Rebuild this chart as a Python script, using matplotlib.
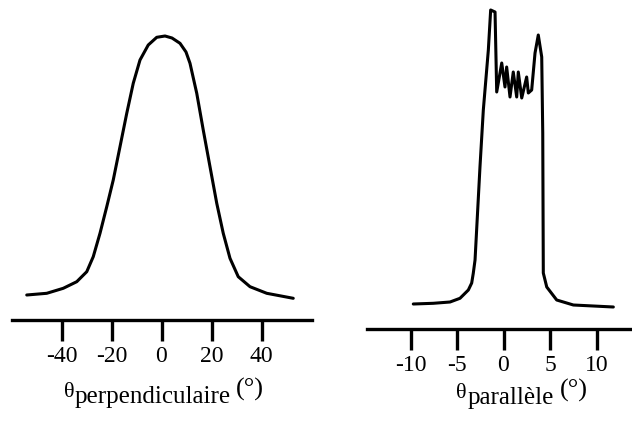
import matplotlib
matplotlib.use("Agg")
import matplotlib.pyplot as plt

plt.rcParams['font.family'] = ['Liberation Serif', 'DejaVu Serif']

# Left panel: perpendicular angular distribution
perp_deg = [-53.9, -45.9, -39.3, -33.9, -29.9, -27.3, -24.6, -21.9, -19.3, -16.6,
            -13.9, -11.3, -8.6, -5.3, -1.9, 1.4, 4.2, 7.4, 9.8, 11.4,
            14.1, 16.7, 19.4, 22.1, 24.7, 27.4, 30.7, 35.4, 42.1, 52.7]
perp_val = [25, 26.7, 31.7, 38.3, 48.3, 63.3, 86.7, 113.3, 140, 173.3,
            206.7, 236.7, 260, 275, 282.7, 284, 282, 276.7, 268, 256.7,
            226.7, 190, 153.3, 116.7, 86.7, 61.7, 43.3, 33.3, 26.7, 21.7]
perp_ticks = [-40, -20, 0, 20, 40]
perp_sub = 'perpendiculaire'

# Right panel: parallel angular distribution
par_deg = [-9.70, -7.55, -5.75, -4.68, -4.32, -3.78, -3.42, -3.25, -3.06, -2.53,
           -2.17, -1.63, -1.38, -0.91, -0.73, -0.19, 0.16, 0.34, 0.70, 1.05,
           1.42, 1.59, 1.96, 2.49, 2.67, 3.03, 3.39, 3.74, 4.11, 4.22,
           4.28, 4.65, 5.72, 7.51, 11.81]
par_val = [24, 24.7, 26, 29.7, 33, 38, 45, 54.7, 68, 161,
           218, 278, 318, 316, 236, 265, 241, 261, 231, 256,
           231, 256, 230, 251, 235, 238, 275, 293, 271, 195,
           55, 41, 28, 23, 21]
par_ticks = [-10, -5, 0, 5, 10]
par_sub = 'parallèle'

W, H = 632, 425
fig = plt.figure(figsize=(W / 100, H / 100), dpi=100)

def make_axes(x0, x1, y_axis, xlim, ylim_top):
    ax = fig.add_axes([x0 / W, (H - y_axis) / H, (x1 - x0) / W, ylim_top / H])
    ax.set_xlim(*xlim)
    ax.set_ylim(0, ylim_top)
    for s in ['top', 'left', 'right']:
        ax.spines[s].set_visible(False)
    ax.spines['bottom'].set_linewidth(2.4)
    ax.set_yticks([])
    ax.tick_params(axis='x', direction='out', length=15, width=2.4, pad=4,
                   labelsize=17, colors='black')
    ax.patch.set_alpha(0)
    return ax

# left: axis line from x=12 to 312 px, zero at 161.5, 2.5 px/deg
axL = make_axes(12, 312, 320, ((12 - 161.5) / 2.5, (312 - 161.5) / 2.5), 320)
axL.plot(perp_deg, perp_val, color='black', lw=2.2,
         solid_joinstyle='round', solid_capstyle='round')
axL.set_xticks(perp_ticks)
axL.set_xticklabels([str(t) for t in perp_ticks])

# right: axis line from x=367 to 632 px, zero at 503.5, 9.3 px/deg
axR = make_axes(367, 632, 329, ((367 - 503.5) / 9.3, (632 - 503.5) / 9.3), 329)
axR.plot(par_deg, [v + 1 for v in par_val], color='black', lw=2.2,
         solid_joinstyle='round', solid_capstyle='round')
axR.set_xticks(par_ticks)
axR.set_xticklabels([str(t) for t in par_ticks])

def label(x_theta, x_sub, x_par, base, sub):
    fig.text(x_theta / W, 1 - base / H, 'θ', ha='left', va='baseline', fontsize=16)
    fig.text(x_sub / W, 1 - (base + 6) / H, sub, ha='left', va='baseline', fontsize=18)
    fig.text(x_par / W, 1 - (base - 1) / H, '(°)', ha='left', va='baseline', fontsize=19)

label(64, 75, 236, 397, perp_sub)
label(456, 468, 560, 398, par_sub)

fig.savefig('out.png', dpi=100)
